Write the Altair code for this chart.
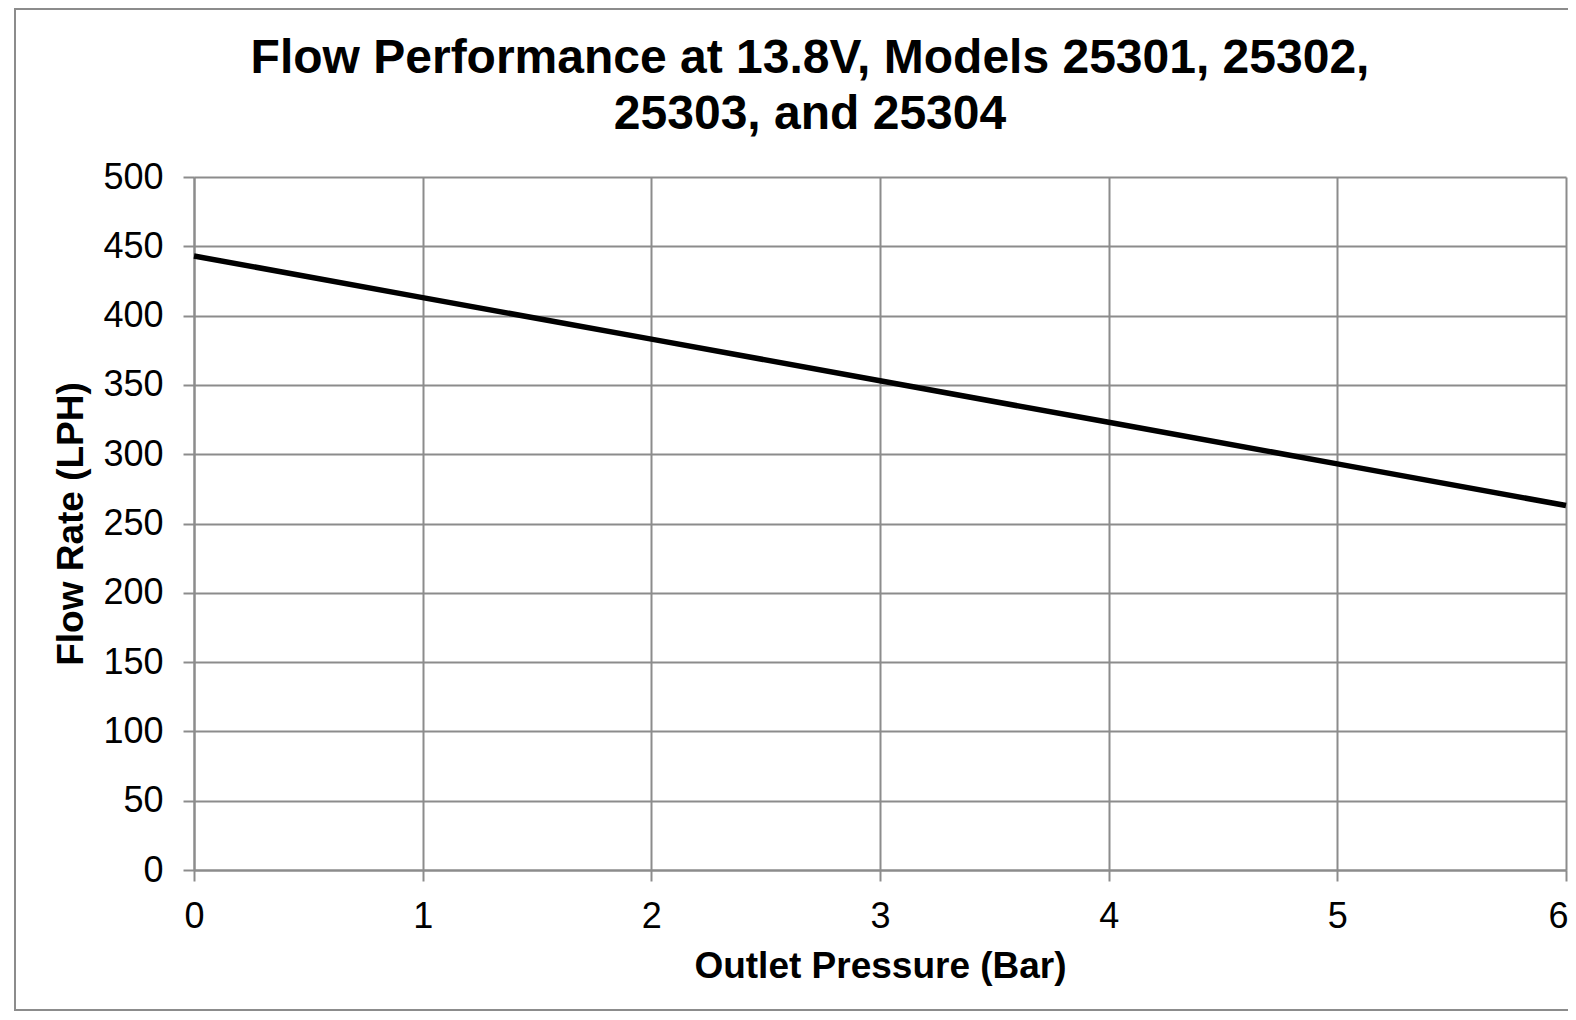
import altair as alt
import pandas as pd

# Data
pressure_bar = [0, 1, 2, 3, 4, 5, 6]
flow_lph = [443, 413, 383, 353, 323, 293, 263]

title_lines = ["Flow Performance at 13.8V, Models 25301, 25302,", "25303, and 25304"]
x_title = "Outlet Pressure (Bar)"
y_title = "Flow Rate (LPH)"

df = pd.DataFrame({"pressure": pressure_bar, "flow": flow_lph})

PLOT_W = 1372
PLOT_H = 693
GRID = "#8c8c8c"
FONT = "Liberation Sans"

frame = alt.Chart(pd.DataFrame({"a": [0]})).mark_rect(
    fill="transparent", stroke=GRID, strokeWidth=2
).encode(
    x=alt.value(-179), x2=alt.value(PLOT_W + 40),
    y=alt.value(-168), y2=alt.value(PLOT_H + 140),
)

line = alt.Chart(df).mark_line(color="black", strokeWidth=5.5, clip=False).encode(
    x=alt.X("pressure:Q",
            scale=alt.Scale(domain=[0, 6], nice=False),
            axis=alt.Axis(values=pressure_bar, title=x_title, format="d",
                          labelFlush=False,
                          labelOffset=alt.ExprRef("datum.value == 6 ? -8 : 0"))),
    y=alt.Y("flow:Q",
            scale=alt.Scale(domain=[0, 500], nice=False),
            axis=alt.Axis(values=list(range(0, 501, 50)), title=y_title)),
)

chart = alt.layer(frame, line).properties(
    width=PLOT_W,
    height=PLOT_H,
    autosize=alt.AutoSizeParams(type="none"),
    padding={"left": 186, "top": 169, "right": 2, "bottom": 142},
    title=alt.TitleParams(
        text=title_lines,
        fontSize=48,
        font=FONT,
        fontWeight="bold",
        color="black",
        lineHeight=56,
        anchor="middle",
        frame="group",
        dx=-70,
        dy=169,
        offset=38,
    ),
).configure(
    background="white",
).configure_view(
    stroke=None,
).configure_axis(
    labelFont=FONT,
    labelFontSize=36,
    labelColor="black",
    titleFont=FONT,
    titleFontSize=37,
    titleFontWeight="bold",
    titleColor="black",
    domainColor=GRID,
    domainWidth=2,
    tickColor=GRID,
    tickWidth=2,
    tickSize=11,
    gridColor=GRID,
    gridWidth=2,
    grid=True,
).configure_axisX(
    labelPadding=18,
    titlePadding=14,
).configure_axisY(
    labelPadding=20,
    titlePadding=12,
)

chart.save("out.html", embed_options={"renderer": "svg", "actions": False})
